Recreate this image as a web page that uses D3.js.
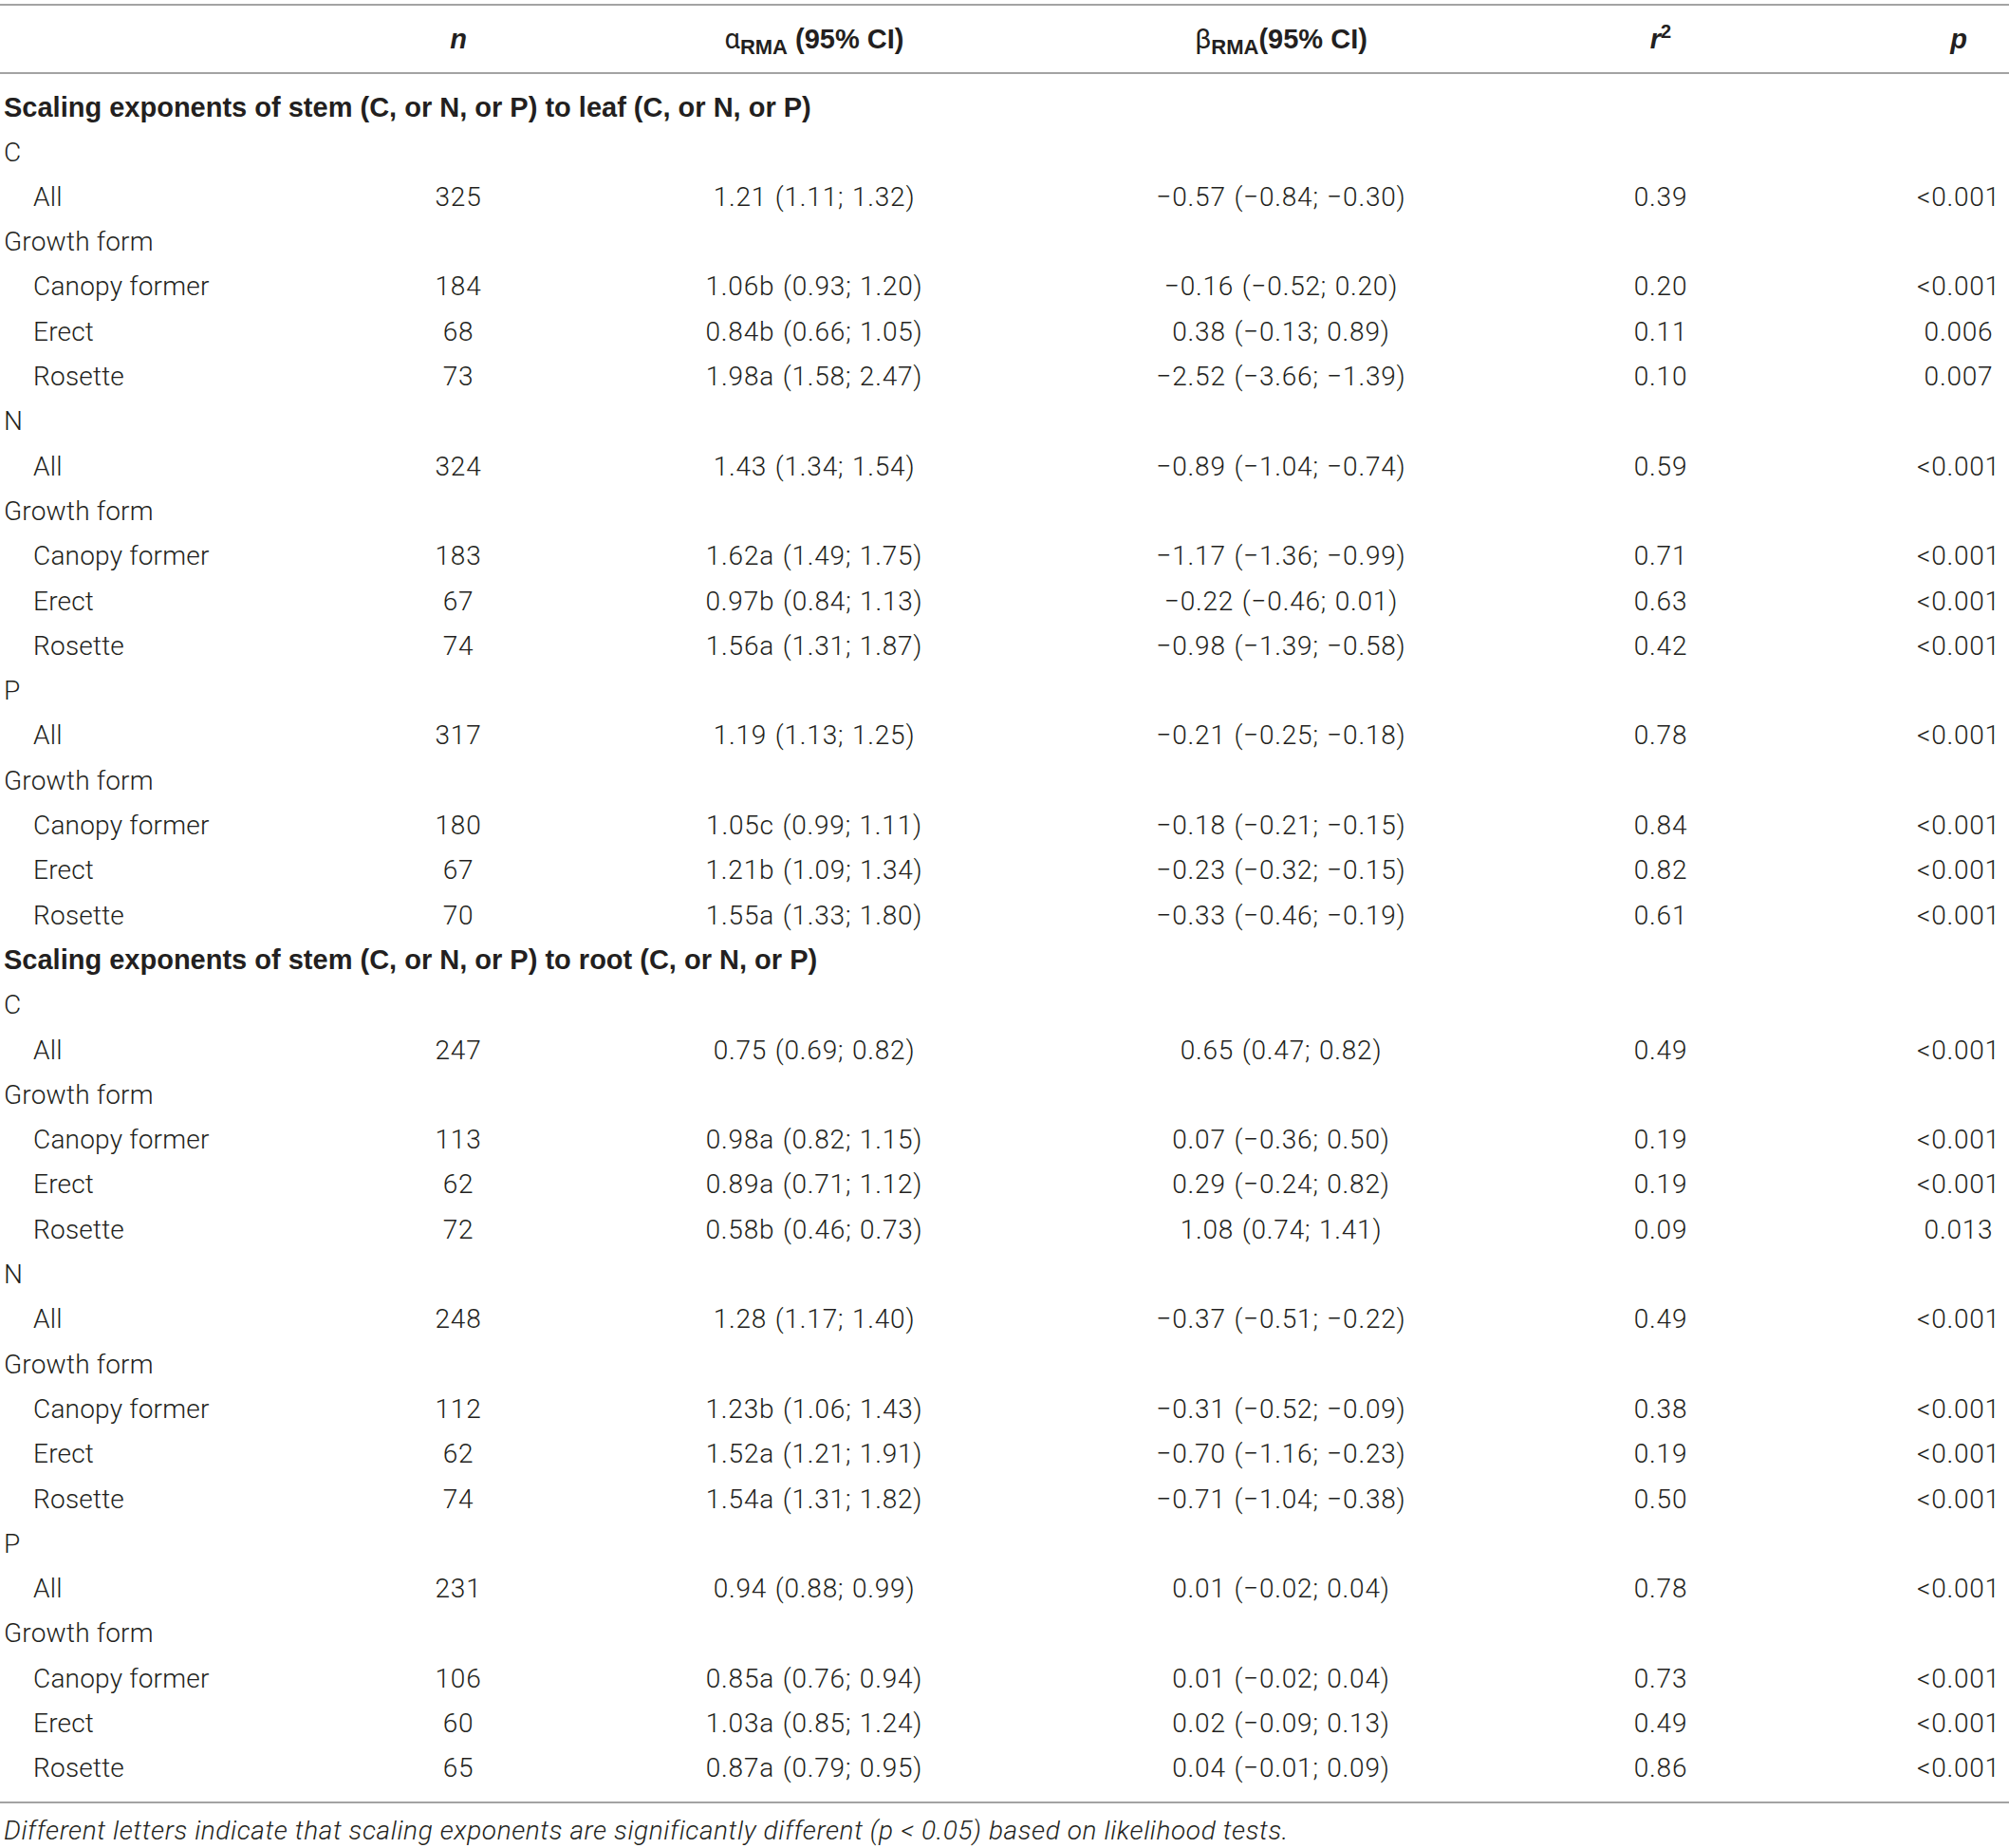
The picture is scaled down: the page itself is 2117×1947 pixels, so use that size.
<!DOCTYPE html>
<html>
<head>
<meta charset="utf-8">
<script src="https://cdn.jsdelivr.net/npm/d3@7"></script>
<style>
  body { margin: 0; background: #fff; }
  svg text { fill: #231f20; }
  .body { font-family: Roboto, "Liberation Sans", sans-serif; font-weight: 300; font-size: 28px; letter-spacing: 0.2px; }
  .cell { letter-spacing: 0.8px; word-spacing: 1px; }
  .foot { letter-spacing: 0.6px; }
  .bold { font-family: "Liberation Sans", Arial, sans-serif; font-weight: bold; font-size: 29px; }
  .rule { stroke: #a3a3a3; stroke-width: 2; }
</style>
</head>
<body>
<svg id="table" width="2117" height="1947"></svg>
<script>
// table contents
const sectionTitles = [
  "Scaling exponents of stem (C, or N, or P) to leaf (C, or N, or P)",
  "Scaling exponents of stem (C, or N, or P) to root (C, or N, or P)"
];
const elements = ["C", "N", "P"];
const groupLabels = ["All", "Canopy former", "Erect", "Rosette"];

// one entry per section x element, in order All, Canopy former, Erect, Rosette
const nValues = [
  [325, 184, 68, 73], [324, 183, 67, 74], [317, 180, 67, 70],
  [247, 113, 62, 72], [248, 112, 62, 74], [231, 106, 60, 65]
];
const alphaValues = [
  ["1.21 (1.11; 1.32)", "1.06b (0.93; 1.20)", "0.84b (0.66; 1.05)", "1.98a (1.58; 2.47)"],
  ["1.43 (1.34; 1.54)", "1.62a (1.49; 1.75)", "0.97b (0.84; 1.13)", "1.56a (1.31; 1.87)"],
  ["1.19 (1.13; 1.25)", "1.05c (0.99; 1.11)", "1.21b (1.09; 1.34)", "1.55a (1.33; 1.80)"],
  ["0.75 (0.69; 0.82)", "0.98a (0.82; 1.15)", "0.89a (0.71; 1.12)", "0.58b (0.46; 0.73)"],
  ["1.28 (1.17; 1.40)", "1.23b (1.06; 1.43)", "1.52a (1.21; 1.91)", "1.54a (1.31; 1.82)"],
  ["0.94 (0.88; 0.99)", "0.85a (0.76; 0.94)", "1.03a (0.85; 1.24)", "0.87a (0.79; 0.95)"]
];
const betaValues = [
  ["−0.57 (−0.84; −0.30)", "−0.16 (−0.52; 0.20)", "0.38 (−0.13; 0.89)", "−2.52 (−3.66; −1.39)"],
  ["−0.89 (−1.04; −0.74)", "−1.17 (−1.36; −0.99)", "−0.22 (−0.46; 0.01)", "−0.98 (−1.39; −0.58)"],
  ["−0.21 (−0.25; −0.18)", "−0.18 (−0.21; −0.15)", "−0.23 (−0.32; −0.15)", "−0.33 (−0.46; −0.19)"],
  ["0.65 (0.47; 0.82)", "0.07 (−0.36; 0.50)", "0.29 (−0.24; 0.82)", "1.08 (0.74; 1.41)"],
  ["−0.37 (−0.51; −0.22)", "−0.31 (−0.52; −0.09)", "−0.70 (−1.16; −0.23)", "−0.71 (−1.04; −0.38)"],
  ["0.01 (−0.02; 0.04)", "0.01 (−0.02; 0.04)", "0.02 (−0.09; 0.13)", "0.04 (−0.01; 0.09)"]
];
const r2Values = [
  ["0.39", "0.20", "0.11", "0.10"],
  ["0.59", "0.71", "0.63", "0.42"],
  ["0.78", "0.84", "0.82", "0.61"],
  ["0.49", "0.19", "0.19", "0.09"],
  ["0.49", "0.38", "0.19", "0.50"],
  ["0.78", "0.73", "0.49", "0.86"]
];
const pValues = [
  ["<0.001", "<0.001", "0.006", "0.007"],
  ["<0.001", "<0.001", "<0.001", "<0.001"],
  ["<0.001", "<0.001", "<0.001", "<0.001"],
  ["<0.001", "<0.001", "<0.001", "0.013"],
  ["<0.001", "<0.001", "<0.001", "<0.001"],
  ["<0.001", "<0.001", "<0.001", "<0.001"]
];
const footnote = "Different letters indicate that scaling exponents are significantly different (p < 0.05) based on likelihood tests.";

// build the flat list of rows
const rows = [];
sectionTitles.forEach((title, s) => {
  rows.push({ type: "section", label: title });
  elements.forEach((el, e) => {
    const k = s * elements.length + e;
    rows.push({ type: "label", label: el });
    groupLabels.forEach((g, j) => {
      if (j === 1) rows.push({ type: "label", label: "Growth form" });
      rows.push({
        type: "data", label: g,
        n: nValues[k][j], alpha: alphaValues[k][j], beta: betaValues[k][j],
        r2: r2Values[k][j], p: pValues[k][j]
      });
    });
  });
});

const svg = d3.select("#table");

const y = d3.scaleBand()
  .domain(d3.range(rows.length))
  .range([88.5, 88.5 + rows.length * 47.3]);

const cols = ["n", "alpha", "beta", "r2", "p"];
const x = d3.scaleOrdinal()
  .domain(cols)
  .range([483, 858, 1350, 1750, 2064]);

const rowMid = i => y(i) + y.bandwidth() / 2;

// rules
svg.append("line").attr("class", "rule").attr("x1", 0).attr("x2", 2117).attr("y1", 5).attr("y2", 5);
svg.append("line").attr("class", "rule").attr("x1", 0).attr("x2", 2117).attr("y1", 77).attr("y2", 77);
svg.append("line").attr("class", "rule").attr("x1", 0).attr("x2", 2117)
  .attr("y1", y.range()[1] + 13).attr("y2", y.range()[1] + 13);

// header
const header = svg.append("g").attr("class", "bold").attr("text-anchor", "middle");
const hy = 51;

header.append("text").attr("x", x("n")).attr("y", hy)
  .style("font-style", "italic").text("n");

const ha = header.append("text").attr("x", x("alpha")).attr("y", hy);
ha.append("tspan").style("font-weight", "normal").style("font-family", "Roboto, sans-serif").text("α");
ha.append("tspan").attr("dy", 6).style("font-size", "22px").text("RMA");
ha.append("tspan").attr("dy", -6).text(" (95% CI)");

const hb = header.append("text").attr("x", x("beta")).attr("y", hy);
hb.append("tspan").style("font-weight", "normal").style("font-family", "Roboto, sans-serif").text("β");
hb.append("tspan").attr("dy", 6).style("font-size", "22px").text("RMA");
hb.append("tspan").attr("dy", -6).text("(95% CI)");

const hr = header.append("text").attr("x", x("r2")).attr("y", hy).style("font-style", "italic");
hr.append("tspan").text("r");
hr.append("tspan").attr("dy", -11).style("font-size", "20px").style("font-style", "normal").text("2");

header.append("text").attr("x", x("p")).attr("y", hy)
  .style("font-style", "italic").text("p");

// body rows
const rowG = svg.selectAll("g.row")
  .data(rows)
  .join("g")
  .attr("class", "row")
  .attr("transform", (d, i) => `translate(0,${rowMid(i)})`);

rowG.append("text")
  .attr("class", d => d.type === "section" ? "bold" : "body")
  .attr("x", d => d.type === "data" ? 35 : 4)
  .attr("dy", "0.36em")
  .text(d => d.label);

rowG.filter(d => d.type === "data")
  .selectAll("text.cell")
  .data(d => cols.map(c => ({ col: c, value: d[c] })))
  .join("text")
  .attr("class", "cell body")
  .attr("x", d => x(d.col))
  .attr("dy", "0.36em")
  .attr("text-anchor", "middle")
  .text(d => d.value);

// footnote
svg.append("text")
  .attr("class", "body foot")
  .attr("x", 4)
  .attr("y", 1938)
  .style("font-style", "italic")
  .text(footnote);
</script>
</body>
</html>
